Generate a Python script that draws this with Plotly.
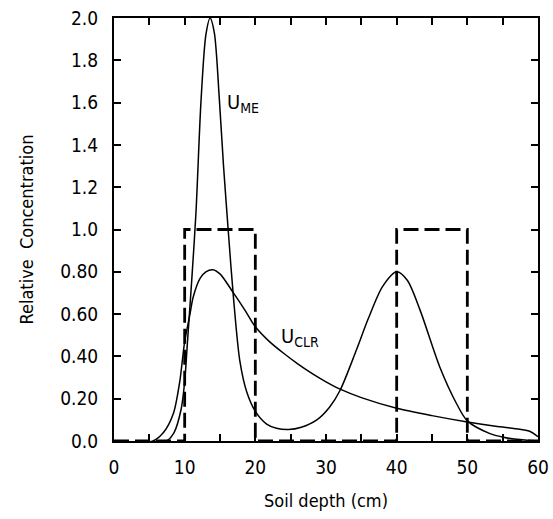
import plotly.graph_objects as go

# U_ME curve
ume_x = [0, 7.4, 8.5, 9.5, 10.0, 10.4, 11.0, 11.6, 12.3, 13.0, 13.6, 14.2, 14.9, 15.5, 16.2, 16.9,
         17.8, 18.8, 20.0, 21.6, 23.0, 24.7, 26.5, 28.7, 30.5, 32.0, 34.3, 36.0, 38.0, 40.0, 41.5,
         43.3, 46.1, 48.5, 50.0, 53.2, 55.1, 57.0, 60.0]
ume_y = [0, 0, 0.04, 0.15, 0.28, 0.47, 0.76, 1.08, 1.6, 1.92, 2.0, 1.93, 1.62, 1.3, 0.98, 0.68,
         0.38, 0.23, 0.14, 0.08, 0.06, 0.054, 0.065, 0.10, 0.16, 0.24, 0.43, 0.58, 0.73, 0.80, 0.76,
         0.62, 0.35, 0.175, 0.095, 0.035, 0.018, 0.008, 0.0]

# U_CLR curve
uclr_x = [0, 5.5, 7.0, 8.4, 9.3, 10.0, 10.75, 11.2, 12.2, 13.0, 14.0, 15.0, 16.9, 18.5, 20.0,
          22.0, 24.0, 26.0, 28.0, 30.0, 32.0, 35.0, 40.0, 45.0, 50.0, 54.0, 57.4, 58.9, 60]
uclr_y = [0, 0, 0.04, 0.13, 0.28, 0.47, 0.6, 0.68, 0.77, 0.80, 0.81, 0.79, 0.70, 0.62, 0.54,
          0.47, 0.415, 0.365, 0.32, 0.28, 0.245, 0.205, 0.155, 0.12, 0.09, 0.07, 0.056, 0.045, 0.02]

# Initial (step) distribution
step_x = [0, 10, 20, 40, 50, 60]
step_y = [0, 1, 0, 1, 0, 0]

x_tickvals = [0, 10, 20, 30, 40, 50, 60]
y_tickvals = [0.0, 0.2, 0.4, 0.6, 0.8, 1.0, 1.2, 1.4, 1.6, 1.8, 2.0]
y_ticktext = ["0.0", "0.20", "0.40", "0.60", "0.80", "1.0", "1.2", "1.4", "1.6", "1.8", "2.0"]

FONT = "DejaVu Sans Condensed, Liberation Sans Narrow, sans-serif"

fig = go.Figure()
fig.add_trace(go.Scatter(x=step_x, y=step_y, mode="lines", line_shape="hv",
                         line=dict(color="black", width=2.8, dash="15px,6px"),
                         showlegend=False, hoverinfo="skip"))
fig.add_trace(go.Scatter(x=ume_x, y=ume_y, mode="lines", line_shape="spline",
                         line=dict(color="black", width=1.5, smoothing=0.8),
                         showlegend=False))
fig.add_trace(go.Scatter(x=uclr_x, y=uclr_y, mode="lines", line_shape="spline",
                         line=dict(color="black", width=1.5, smoothing=0.8),
                         showlegend=False))

fig.add_annotation(x=15.75, y=1.6, text="U<sub>ME</sub>", showarrow=False,
                   xanchor="left", yanchor="middle", font=dict(family=FONT, size=20, color="black"))
fig.add_annotation(x=23.4, y=0.49, text="U<sub>CLR</sub>", showarrow=False,
                   xanchor="left", yanchor="middle", font=dict(family=FONT, size=20, color="black"))

fig.update_layout(
    width=553, height=519,
    margin=dict(l=114, r=15, t=18, b=78, pad=0),
    paper_bgcolor="white", plot_bgcolor="white",
    font=dict(family=FONT, size=19, color="black"),
)
fig.update_xaxes(range=[0, 60], tickvals=x_tickvals,
                 minor=dict(dtick=5, tick0=0, ticks="inside", ticklen=7, tickwidth=1.5, tickcolor="black", showgrid=False),
                 ticks="inside", ticklen=7, tickwidth=1.5, tickcolor="black",
                 showline=True, linecolor="black", linewidth=2, mirror="allticks",
                 showgrid=False, zeroline=False, ticklabelstandoff=8, automargin=False,
                 title=dict(text="Soil depth (cm)", font=dict(size=18), standoff=18))
fig.update_yaxes(range=[0, 2.0], tickvals=y_tickvals, ticktext=y_ticktext,
                 ticks="inside", ticklen=7, tickwidth=1.5, tickcolor="black",
                 showline=True, linecolor="black", linewidth=2, mirror="allticks",
                 showgrid=False, zeroline=False, ticklabelstandoff=10, automargin=False,
                 title=dict(text="Relative  Concentration", font=dict(size=18), standoff=22))

fig.write_html("out.html")
